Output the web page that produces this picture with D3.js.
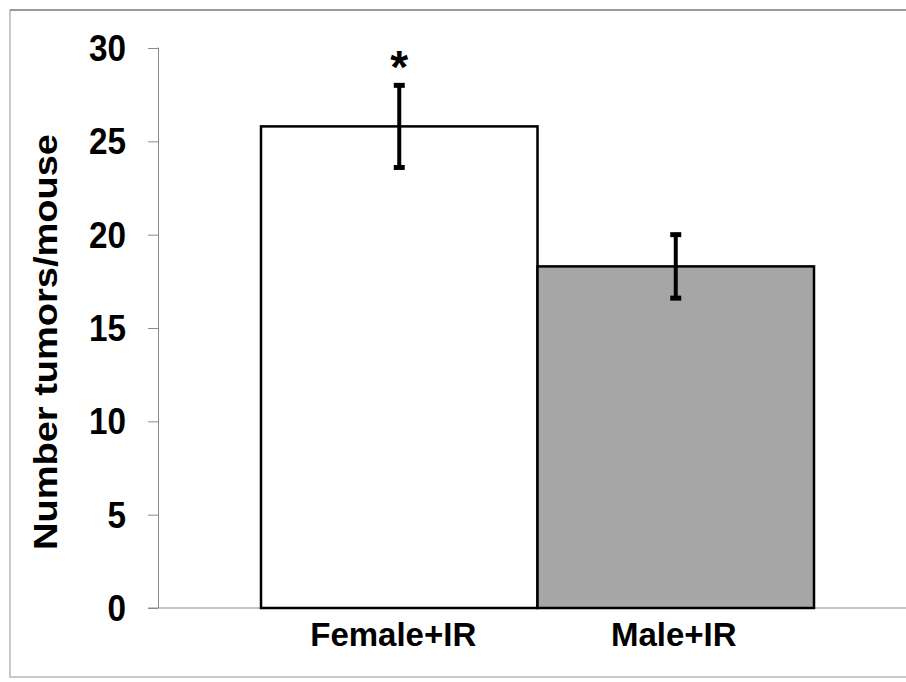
<!DOCTYPE html>
<html>
<head>
<meta charset="utf-8">
<script src="https://cdn.jsdelivr.net/npm/d3@7"></script>
<style>
  html, body { margin: 0; padding: 0; background: #fff; }
  svg { display: block; }
  text { font-family: "Liberation Sans", Arial, sans-serif; font-weight: bold; fill: #000; }
</style>
</head>
<body>
<svg id="chart" width="906" height="682"></svg>
<script>
// Tumour counts per mouse, mean with standard error
const groups = ["Female+IR", "Male+IR"];
const means = [25.8, 18.3];
const errUpper = [28.0, 20.0];
const errLower = [23.6, 16.6];
const barFills = ["#ffffff", "#a6a6a6"];
const significance = ["*", ""];
const yTicks = [0, 5, 10, 15, 20, 25, 30];
const yTitle = "Number tumors/mouse";

const svg = d3.select("#chart");

// Frame around the figure
svg.append("rect")
  .attr("x", 10).attr("y", 10)
  .attr("width", 906).attr("height", 667)
  .attr("fill", "none")
  .attr("stroke", "#b8b8b8")
  .attr("stroke-width", 1.5);
svg.append("line")
  .attr("x1", 10).attr("x2", 906).attr("y1", 10).attr("y2", 10)
  .attr("stroke", "#9a9a9a").attr("stroke-width", 2);

const y = d3.scaleLinear().domain([0, 30]).range([608, 48]);
const x = d3.scaleBand().domain(groups).range([261, 814]).padding(0);
const axisX = 158;

// Y axis
const tickScaleX = 0.9;
const yAxis = d3.axisLeft(y).tickValues(yTicks).tickSize(10).tickPadding(22);
const gy = svg.append("g").attr("transform", `translate(${axisX},0)`).call(yAxis);
gy.select(".domain").attr("stroke", "#8a8a8a").attr("d", `M-0.5,${y(30)}H0.5V${y(0)}`);
gy.selectAll(".tick line").attr("stroke", "#8a8a8a");
gy.selectAll(".tick text")
  .style("font-size", "37px")
  .style("font-family", "'Liberation Sans', Arial, sans-serif")
  .style("font-weight", "bold")
  .attr("fill", "#000")
  .attr("x", -32 / tickScaleX)
  .attr("transform", `scale(${tickScaleX},1)`)
  .attr("dy", "0.34em");

// Baseline across the plot
svg.append("line")
  .attr("x1", axisX - 10).attr("x2", 906)
  .attr("y1", y(0)).attr("y2", y(0))
  .attr("stroke", "#8a8a8a").attr("stroke-width", 1);

// Bars
svg.selectAll("rect.bar")
  .data(groups)
  .join("rect")
  .attr("class", "bar")
  .attr("x", d => x(d))
  .attr("y", (d, i) => y(means[i]))
  .attr("width", x.bandwidth())
  .attr("height", (d, i) => y(0) - y(means[i]))
  .attr("fill", (d, i) => barFills[i])
  .attr("stroke", "#000")
  .attr("stroke-width", 2.5);

// Error bars
const cx = d => x(d) + x.bandwidth() / 2;
const eb = svg.selectAll("g.err").data(groups).join("g").attr("class", "err");
eb.append("line")
  .attr("x1", cx).attr("x2", cx)
  .attr("y1", (d, i) => y(errUpper[i])).attr("y2", (d, i) => y(errLower[i]))
  .attr("stroke", "#000").attr("stroke-width", 4);
eb.append("line")
  .attr("x1", d => cx(d) - 5.5).attr("x2", d => cx(d) + 5.5)
  .attr("y1", (d, i) => y(errUpper[i])).attr("y2", (d, i) => y(errUpper[i]))
  .attr("stroke", "#000").attr("stroke-width", 5);
eb.append("line")
  .attr("x1", d => cx(d) - 5.5).attr("x2", d => cx(d) + 5.5)
  .attr("y1", (d, i) => y(errLower[i])).attr("y2", (d, i) => y(errLower[i]))
  .attr("stroke", "#000").attr("stroke-width", 5);

// Significance marker
svg.selectAll("text.sig")
  .data(groups)
  .join("text")
  .attr("class", "sig")
  .attr("x", cx)
  .attr("y", (d, i) => y(errUpper[i]) - 2)
  .attr("text-anchor", "middle")
  .style("font-size", "46px")
  .text((d, i) => significance[i]);

// Category labels
svg.selectAll("text.cat")
  .data(groups)
  .join("text")
  .attr("class", "cat")
  .attr("x", d => cx(d) - (d === "Female+IR" ? 6 : 2))
  .attr("y", 646)
  .attr("text-anchor", "middle")
  .style("font-size", "33px")
  .text(d => d);

// Y axis title
svg.append("text")
  .attr("transform", "translate(57,342) rotate(-90)")
  .attr("text-anchor", "middle")
  .attr("textLength", 416)
  .attr("lengthAdjust", "spacingAndGlyphs")
  .style("font-size", "33px")
  .text(yTitle);
</script>
</body>
</html>
